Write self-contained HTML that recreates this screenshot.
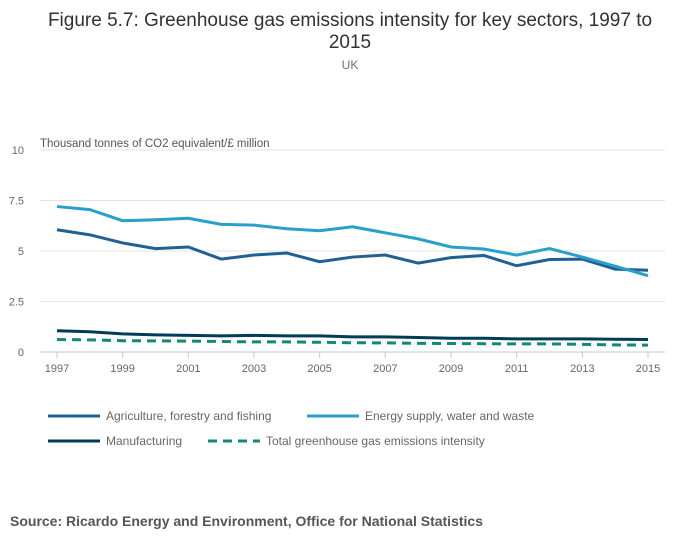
<!DOCTYPE html>
<html><head><meta charset="utf-8"><style>
body{margin:0;background:#fff;font-family:"Liberation Sans",sans-serif;}
svg text{font-family:"Liberation Sans",sans-serif;}
</style></head><body>
<svg width="700" height="549">
<text x="350" y="26" text-anchor="middle" font-size="19" fill="#323132">Figure 5.7: Greenhouse gas emissions intensity for key sectors, 1997 to</text>
<text x="350" y="48" text-anchor="middle" font-size="19" fill="#323132">2015</text>
<text x="350" y="69" text-anchor="middle" font-size="12" fill="#707071">UK</text>
<text x="40" y="147" font-size="11.5" fill="#555">Thousand tonnes of CO2 equivalent/£ million</text>
<g id="grid"></g><g id="series"></g><g id="legend"></g>
<text x="10" y="526" font-size="14" font-weight="bold" fill="#555">Source: Ricardo Energy and Environment, Office for National Statistics</text>
</svg>
<script>
const years=[1997,1998,1999,2000,2001,2002,2003,2004,2005,2006,2007,2008,2009,2010,2011,2012,2013,2014,2015];
const yTicks=[0,2.5,5,7.5,10];
const yTickLabels=["0","2.5","5","7.5","10"];
const xTickLabels=["1997","1999","2001","2003","2005","2007","2009","2011","2013","2015"];
const agriculture=[6.05,5.8,5.4,5.12,5.2,4.6,4.8,4.9,4.47,4.7,4.8,4.4,4.67,4.78,4.27,4.58,4.6,4.1,4.05];
const energy=[7.2,7.05,6.5,6.55,6.62,6.32,6.28,6.1,6.0,6.2,5.9,5.6,5.2,5.1,4.8,5.12,4.7,4.25,3.78];
const manufacturing=[1.05,1.0,0.9,0.85,0.82,0.8,0.82,0.8,0.8,0.75,0.75,0.72,0.68,0.68,0.65,0.65,0.65,0.63,0.62];
const total=[0.62,0.6,0.56,0.55,0.54,0.52,0.5,0.5,0.48,0.46,0.45,0.43,0.42,0.41,0.4,0.4,0.38,0.35,0.34];
const NS="http://www.w3.org/2000/svg";
const x=v=>57+(v-1997)*(648-57)/18;
const y=v=>352-v*20.2;
function mk(t,a,p){const e=document.createElementNS(NS,t);for(const k in a)e.setAttribute(k,a[k]);p.appendChild(e);return e;}
const g=document.getElementById('grid');
yTicks.forEach((t,i)=>{
 const l=mk('line',{x1:40,x2:665,y1:y(t),y2:y(t),stroke:t===0?'#bcc8e0':'#e3e3e3','stroke-width':1},g);
 
 
 const tx=mk('text',{x:24,y:y(t)+4,'text-anchor':'end','font-size':11,fill:'#666'},g);
 tx.textContent=yTickLabels[i];
 
 
});
xTickLabels.forEach(s=>{
 const v=+s;
 const l=mk('line',{x1:x(v),x2:x(v),y1:352,y2:358,stroke:'#bcc8e0'},g);
 
 
 const tx=mk('text',{x:x(v),y:372,'text-anchor':'middle','font-size':11,fill:'#666'},g);
 tx.textContent=s;
 
 
});
const S=document.getElementById('series');
function line(d,c,dash,name){
 const p=mk('polyline',{points:d.map((v,i)=>x(years[i])+','+y(v)).join(' '),fill:'none',stroke:c,'stroke-width':3,'stroke-dasharray':dash||'none'},S);
 
 
}
line(total,'#10897a','9,6','line-total');
line(manufacturing,'#003c57','','line-manufacturing');
line(agriculture,'#206095','','line-agriculture');
line(energy,'#27a0cc','','line-energy');
const L=document.getElementById('legend');
[[48,416,'#206095','','Agriculture, forestry and fishing','legend-agriculture'],
 [307,416,'#27a0cc','','Energy supply, water and waste','legend-energy'],
 [48,441,'#003c57','','Manufacturing','legend-manufacturing'],
 [208,441,'#10897a','9,6','Total greenhouse gas emissions intensity','legend-total']].forEach(a=>{
 const gr=mk('g',{},L);
 
 
 mk('line',{x1:a[0],x2:a[0]+52,y1:a[1],y2:a[1],stroke:a[2],'stroke-width':3,'stroke-dasharray':a[3]||'none'},gr);
 const t=mk('text',{x:a[0]+58,y:a[1]+4,'font-size':12,fill:'#666'},gr);
 t.textContent=a[4];
});
</script>
</body></html>
